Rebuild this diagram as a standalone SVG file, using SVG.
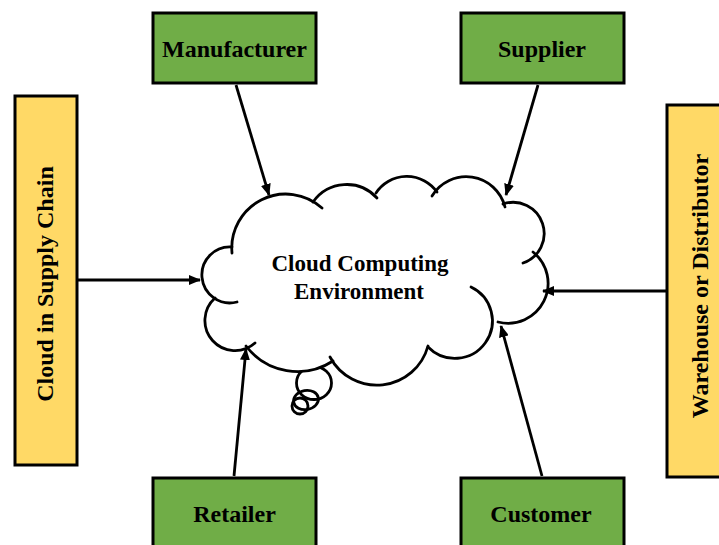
<svg xmlns="http://www.w3.org/2000/svg" width="719" height="545" viewBox="0 0 719 545">
  <style>
    .box { stroke: #000; stroke-width: 3; }
    .green { fill: #70AD47; }
    .yellow { fill: #FFD966; }
    .label { font-family: "Liberation Serif", "Times New Roman", serif; font-weight: bold; font-size: 24px; fill: #000; text-anchor: middle; }
    .cloud-line { fill: none; stroke: #000; stroke-width: 2.8; stroke-linecap: round; }
    .link { stroke: #000; stroke-width: 2.8; fill: none; marker-end: url(#head); }
  </style>
  <defs>
    <marker id="head" markerUnits="userSpaceOnUse" markerWidth="12" markerHeight="10" refX="11" refY="5" orient="auto">
      <path d="M0,0 L12,5 L0,10 Z" fill="#000"/>
    </marker>
  </defs>

  <rect width="719" height="545" fill="#fff"/>

  <!-- central cloud -->
  <g id="cloud">
    <!-- thought bubbles -->
    <ellipse cx="314" cy="383" rx="17.5" ry="16.5" class="cloud-line"/>
    <ellipse cx="306" cy="400" rx="12.5" ry="9.5" class="cloud-line" transform="rotate(-10 306 400)"/>
    <circle cx="300" cy="406" r="8" class="cloud-line"/>
    <!-- cloud body fill -->
    <path fill="#fff" d="M232,253 A54,54 0 0 1 322,208 L313,202 A41,41 0 0 1 377,198 L376,193 A37,37 0 0 1 437,192 L432,196 A40,40 0 0 1 505,207 L503,204 A30,30 0 0 1 523,263 L533,252 A40,40 0 0 1 498,322 L471,287 A37.5,37.5 0 1 1 428,347 L428,346 A53,53 0 0 1 330,357 L333,361 A65,65 0 0 1 246,346 L255,343 A30,30 0 0 1 215,298 L237,302 A28,28 0 1 1 232,247 Z"/>
    <!-- cloud lobes -->
    <path class="cloud-line" d="M232,253 A54,54 0 0 1 322,208"/>
    <path class="cloud-line" d="M313,202 A41,41 0 0 1 377,198"/>
    <path class="cloud-line" d="M376,193 A37,37 0 0 1 437,192"/>
    <path class="cloud-line" d="M432,196 A40,40 0 0 1 505,207"/>
    <path class="cloud-line" d="M503,204 A30,30 0 0 1 523,263"/>
    <path class="cloud-line" d="M533,252 A40,40 0 0 1 498,322"/>
    <path class="cloud-line" d="M471,287 A37.5,37.5 0 1 1 428,347"/>
    <path class="cloud-line" d="M428,346 A53,53 0 0 1 330,357"/>
    <path class="cloud-line" d="M333,361 A65,65 0 0 1 246,346"/>
    <path class="cloud-line" d="M255,343 A30,30 0 0 1 215,298"/>
    <path class="cloud-line" d="M237,302 A28,28 0 1 1 232,247"/>
    <text class="label" style="font-size:23px" x="360" y="271">Cloud Computing</text>
    <text class="label" style="font-size:23px" x="359" y="299">Environment</text>
  </g>

  <g id="manufacturer">
    <rect class="box green" x="153" y="13" width="163" height="70"/>
    <text class="label" x="234.5" y="57">Manufacturer</text>
  </g>

  <g id="supplier">
    <rect class="box green" x="461" y="13" width="163" height="70"/>
    <text class="label" x="542" y="57">Supplier</text>
  </g>

  <g id="cloud-in-supply-chain">
    <rect class="box yellow" x="15" y="96" width="62" height="369"/>
    <text class="label" transform="translate(53 284) rotate(-90)">Cloud in Supply Chain</text>
  </g>

  <g id="warehouse">
    <rect class="box yellow" x="667" y="105" width="62" height="372"/>
    <text class="label" transform="translate(708 286) rotate(-90)">Warehouse or Distributor</text>
  </g>

  <g id="retailer">
    <rect class="box green" x="153" y="478" width="163" height="72"/>
    <text class="label" x="234.5" y="522">Retailer</text>
  </g>

  <g id="customer">
    <rect class="box green" x="461" y="478" width="163" height="72"/>
    <text class="label" x="541" y="522">Customer</text>
  </g>

  <g id="connectors">
    <line class="link" x1="236" y1="85" x2="269" y2="195"/>
    <line class="link" x1="538" y1="85" x2="506" y2="195"/>
    <line class="link" x1="78" y1="280" x2="200" y2="280"/>
    <line class="link" x1="666" y1="291" x2="543" y2="291"/>
    <line class="link" x1="234" y1="476" x2="246" y2="349"/>
    <line class="link" x1="542" y1="476" x2="501" y2="326"/>
  </g>
</svg>
